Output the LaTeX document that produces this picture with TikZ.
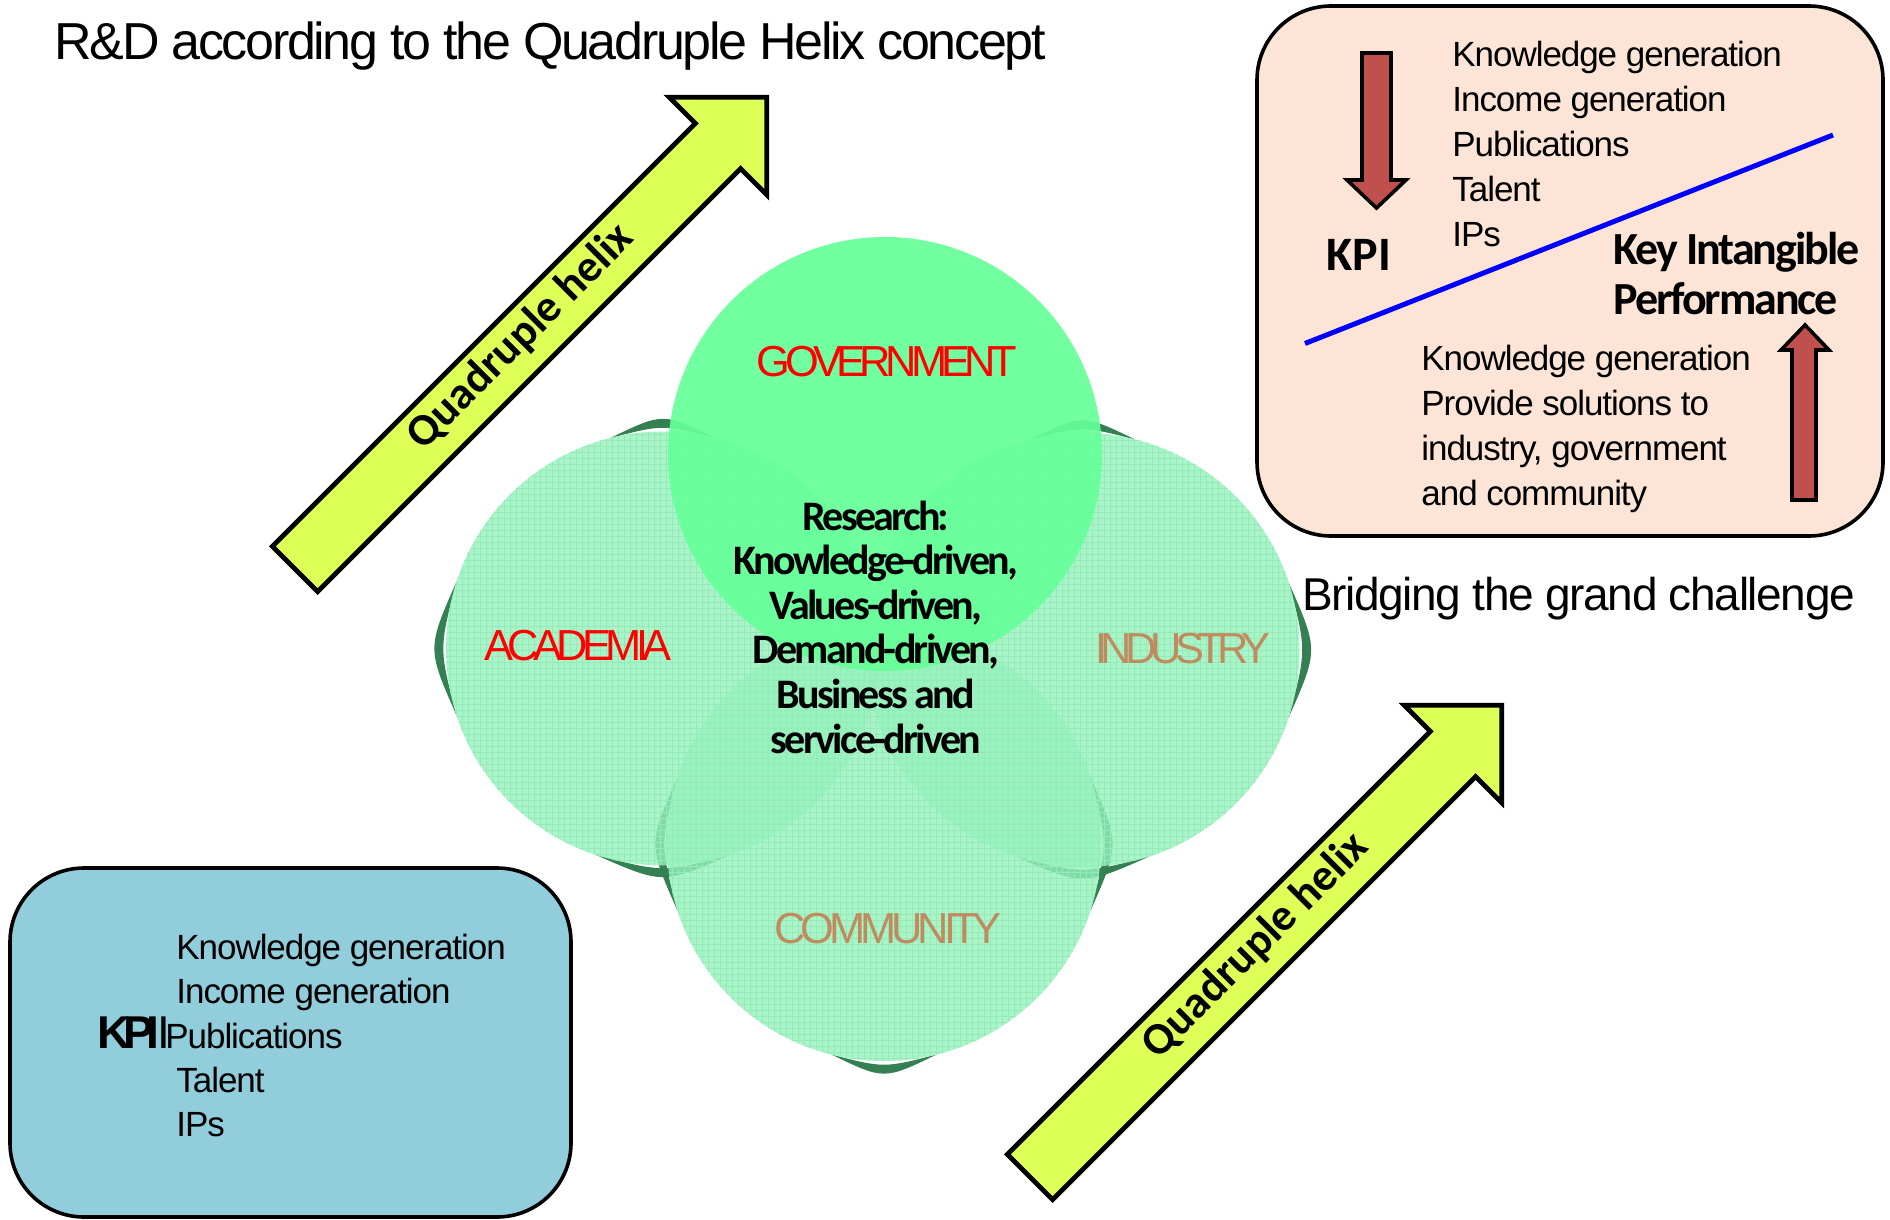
\documentclass[tikz,border=0pt]{standalone}
\usepackage{fontspec}
\setmainfont{Liberation Sans}
\newfontfamily\calibri{Carlito}
\usetikzlibrary{calc,patterns}

\definecolor{govgreen}{RGB}{102,255,153}
\definecolor{lightgreen}{RGB}{149,242,186}
\definecolor{gridgreen}{RGB}{148,234,186}
\definecolor{rimgreen}{RGB}{52,128,82}
\definecolor{helixyellow}{RGB}{221,255,88}
\definecolor{peach}{RGB}{252,229,214}
\definecolor{skyblue}{RGB}{146,205,220}
\definecolor{kpired}{RGB}{192,80,77}
\definecolor{sectorbrown}{RGB}{190,140,95}
\definecolor{sectorred}{RGB}{255,0,0}

% dark rim crescent just outside a sphere of radius 217:
% centre, start angle, end angle, mid angle (inner edge follows the sphere)
\newcommand\rimcrescent[4]{%
  \fill[rimgreen] ($(#1)+(#2:217)$) .. controls ($(#1)+(#4:224.1)$) .. ($(#1)+(#3:217)$)
    .. controls ($(#1)+(#4:236)$) .. ($(#1)+(#2:217)$) -- cycle;}

\begin{document}
\begin{tikzpicture}[x=0.5pt,y=-0.5pt,
  sphere/.style={circle, minimum size=217pt, inner sep=0pt, outer sep=0pt},
  lightsphere/.style={sphere, preaction={fill=lightgreen, fill opacity=0.8},
    pattern=grid, pattern color=gridgreen},
  govsphere/.style={sphere, fill=govgreen, fill opacity=0.93},
  sector/.style={inner sep=0pt, anchor=base,
    font=\fontsize{21.7}{26}\selectfont\addfontfeature{LetterSpace=-13}},
  helix/.style={fill=helixyellow, draw=black, line width=2.4pt, line join=miter},
  helixlabel/.style={inner sep=0pt, rotate=45,
    font=\calibri\bfseries\fontsize{22.5}{27}\selectfont},
  panel/.style={draw=black, line width=1.8pt, rounded corners=37pt},
  kpiarrow/.style={fill=kpired, draw=black, line width=1.8pt, line join=miter},
  listtext/.style={inner sep=0pt, anchor=base west, align=left,
    font=\fontsize{17.5}{22.5}\selectfont\addfontfeature{LetterSpace=-3}},
  plain/.style={inner sep=0pt, anchor=base west}]

\useasboundingbox (0,0) rectangle (1890,1220);

% centres of the four spheres
\coordinate (cA) at (663,648.5);
\coordinate (cI) at (1082.5,650);
\coordinate (cC) at (884,844);
\coordinate (cG) at (885,454);

% dark rims behind the light spheres
\rimcrescent{cA}{256}{284}{270}
\rimcrescent{cA}{162}{198}{180}
\rimcrescent{cA}{72}{108}{90}
\rimcrescent{cI}{256}{284}{270}
\rimcrescent{cI}{-18}{18}{0}
\rimcrescent{cI}{72}{108}{90}
\rimcrescent{cC}{162}{198}{180}
\rimcrescent{cC}{-18}{18}{0}
\rimcrescent{cC}{76}{104}{90}

% the four spheres
\node[lightsphere] (academia) at (cA) {};
\node[lightsphere] (industry) at (cI) {};
\node[lightsphere] (community) at (cC) {};
\node[govsphere] (government) at (cG) {};

% sphere labels
\node[sector, text=sectorred] (govlabel) at (887,376) {GOVERNMENT};
\node[sector, text=sectorred] (acalabel) at (578,660.5) {ACADEMIA};
\node[sector, text=sectorbrown, font=\fontsize{21.7}{26}\selectfont\addfontfeature{LetterSpace=-15}]
  (indlabel) at (1183,663) {INDUSTRY};
\node[sector, text=sectorbrown, font=\fontsize{21.7}{26}\selectfont\addfontfeature{LetterSpace=-11.5}]
  (comlabel) at (888,943.5) {COMMUNITY};

% research drivers in the common core (anchored on the last baseline)
\node[inner sep=0pt, anchor=base, align=center,
  font=\calibri\bfseries\fontsize{21}{22.3}\selectfont\addfontfeature{LetterSpace=-6.5}]
  (research) at (876,753)
  {Research:\\Knowledge-driven,\\Values-driven,\\Demand-driven,\\Business and\\service-driven};

% title
\node[plain, font=\fontsize{26}{30}\selectfont\addfontfeature{LetterSpace=-4.5}]
  (title) at (54,60) {R\&D according to the Quadruple Helix concept};

% quadruple helix arrows
\draw[helix] (272.4,546.4) -- (695.4,123.4) -- (669.2,97.2) -- (766.8,97.2)
  -- (766.8,194.8) -- (740.6,168.6) -- (317.6,591.6) -- cycle;
\node[helixlabel] (helixA) at (521,337) {Quadruple helix};
\draw[helix] (1007.4,1154.4) -- (1430.4,731.4) -- (1404.2,705.2) -- (1501.8,705.2)
  -- (1501.8,802.8) -- (1475.6,776.6) -- (1052.6,1199.6) -- cycle;
\node[helixlabel] (helixB) at (1256,946) {Quadruple helix};

% KPI / key intangible performance panel
\draw[panel, fill=peach] (1257,6) rectangle (1883,536);
\draw[kpiarrow] (1362,53) -- (1391,53) -- (1391,180) -- (1406,180) -- (1376.5,208)
  -- (1347,180) -- (1362,180) -- cycle;
\draw[kpiarrow] (1792,500) -- (1792,350) -- (1781,350) -- (1805,325) -- (1829,350)
  -- (1816,350) -- (1816,500) -- cycle;
\coordinate (divA) at (1305,343.5);
\coordinate (divB) at (1833,135);
\draw[blue, line width=2.5pt] (divA) -- (divB);
\node[listtext] (kpitop) at (1452,246)
  {Knowledge generation\\Income generation\\Publications\\Talent\\IPs};
\node[plain, font=\calibri\bfseries\fontsize{24}{28}\selectfont] (kpi) at (1326,270) {KPI};
\node[plain, align=left,
  font=\calibri\bfseries\fontsize{23}{25}\selectfont\addfontfeature{LetterSpace=-4.5}]
  (kip) at (1613,314.5) {Key Intangible\\Performance};
\node[listtext] (kipbottom) at (1421,505)
  {Knowledge generation\\Provide solutions to\\industry, government\\and community};

\node[plain, font=\fontsize{23}{27}\selectfont\addfontfeature{LetterSpace=-3}]
  (bridge) at (1302,610) {Bridging the grand challenge};

% KPI panel
\draw[panel, fill=skyblue] (10,868) rectangle (571,1217);
\node[listtext, font=\fontsize{17.5}{22.15}\selectfont\addfontfeature{LetterSpace=-3}]
  (kpilist) at (176,1136.6)
  {Knowledge generation\\Income generation\\\hspace*{-5.5pt}Publications\\Talent\\IPs};
\node[plain, font=\fontsize{23}{27}\selectfont] (kpiblue) at (97,1048)
  {{\bfseries\addfontfeature{LetterSpace=-16}KPI}\hspace{-1pt}I};

\end{tikzpicture}
\end{document}
